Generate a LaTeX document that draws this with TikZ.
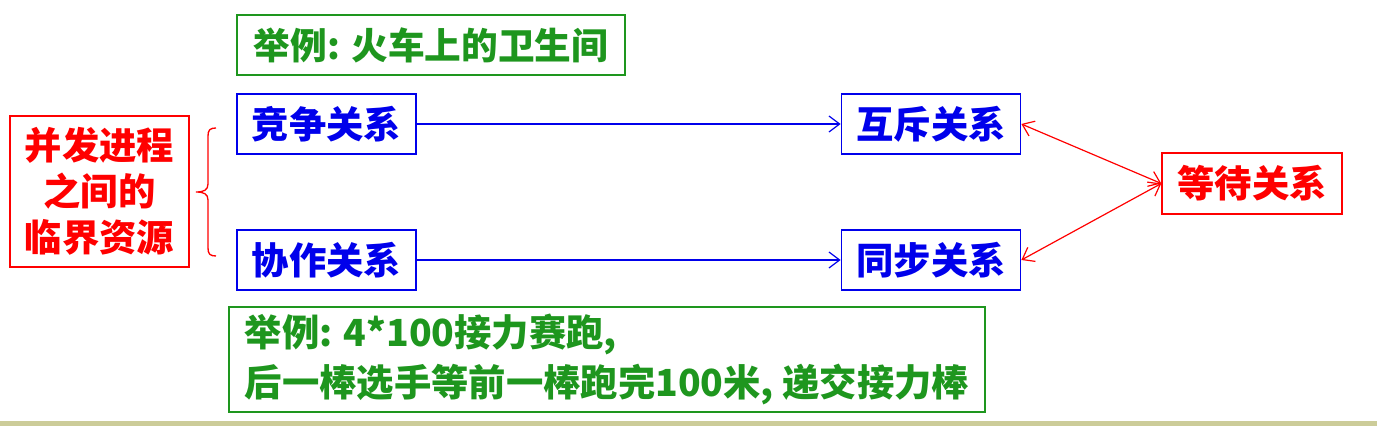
\documentclass[tikz,border=0pt]{standalone}
\usepackage{fontspec}
\setmainfont{Noto Sans CJK SC}
\usetikzlibrary{arrows.meta}
\definecolor{myblue}{RGB}{0,0,235}
\definecolor{myred}{RGB}{255,0,0}
\definecolor{mygreen}{RGB}{30,150,30}
\definecolor{strip}{RGB}{204,204,153}
\tikzset{
  bluebox/.style={draw=myblue, line width=1.3pt, text=myblue, font=\fontsize{28}{32}\selectfont\bfseries, minimum width=134.25pt, minimum height=45pt, inner sep=0pt},
  redbox/.style={draw=myred, line width=1.1pt, text=myred, font=\fontsize{28}{32}\selectfont\bfseries, inner sep=0pt},
  greenbox/.style={draw=mygreen, line width=1.3pt, text=mygreen, font=\fontsize{27.5}{32}\selectfont\bfseries, inner sep=0pt},
  bluearrow/.style={draw=myblue, line width=0.9pt, -{Straight Barb[length=8pt,width=12pt]}},
  redarrow/.style={draw=myred, line width=0.9pt, {Straight Barb[length=8pt,width=12pt]}-{Straight Barb[length=8pt,width=12pt]}},
}
\begin{document}
\begin{tikzpicture}[x=0.75pt,y=-0.75pt]
\useasboundingbox (0,0) rectangle (1377,445);
\fill[strip] (0,421) rectangle (1377,426);
% left red box
\node[redbox, minimum width=134.25pt, minimum height=113.25pt, align=center, font=\fontsize{28}{34.5}\selectfont\bfseries] (crit) at (99.5,191.5) {并发进程\\之间的\\临界资源};
% brace
\draw[myred, line width=1pt] (216,128) .. controls (210,128) and (208,130) .. (208,136) -- (208,184) .. controls (208,190) and (204,192) .. (196,192) .. controls (204,192) and (208,194) .. (208,200) -- (208,248) .. controls (208,254) and (210,256) .. (216,256);
% blue boxes
\node[bluebox] (comp) at (326.5,124) {竞争关系};
\node[bluebox] (coop) at (326.5,260) {协作关系};
\node[bluebox] (mutex) at (931,124) {互斥关系};
\node[bluebox] (sync) at (931,260) {同步关系};
% red wait box
\node[redbox, minimum width=135pt, minimum height=45.75pt] (wait) at (1252,183.5) {等待关系};
% green boxes
\node[greenbox, minimum width=291pt, minimum height=45pt] (ex1) at (431,45) {举例: 火车上的卫生间};
\node[greenbox, minimum width=567pt, minimum height=78.75pt, align=left, font=\fontsize{28}{37.5}\selectfont\bfseries] (ex2) at (607,359.5) {举例: 4*100接力赛跑,\\后一棒选手等前一棒跑完100米, 递交接力棒};
% arrows
\draw[bluearrow] (comp) -- (mutex);
\draw[bluearrow] (coop) -- (sync);
\draw[redarrow] (mutex.east) -- (wait.west);
\draw[redarrow] (sync.east) -- (wait.west);
\end{tikzpicture}
\end{document}
